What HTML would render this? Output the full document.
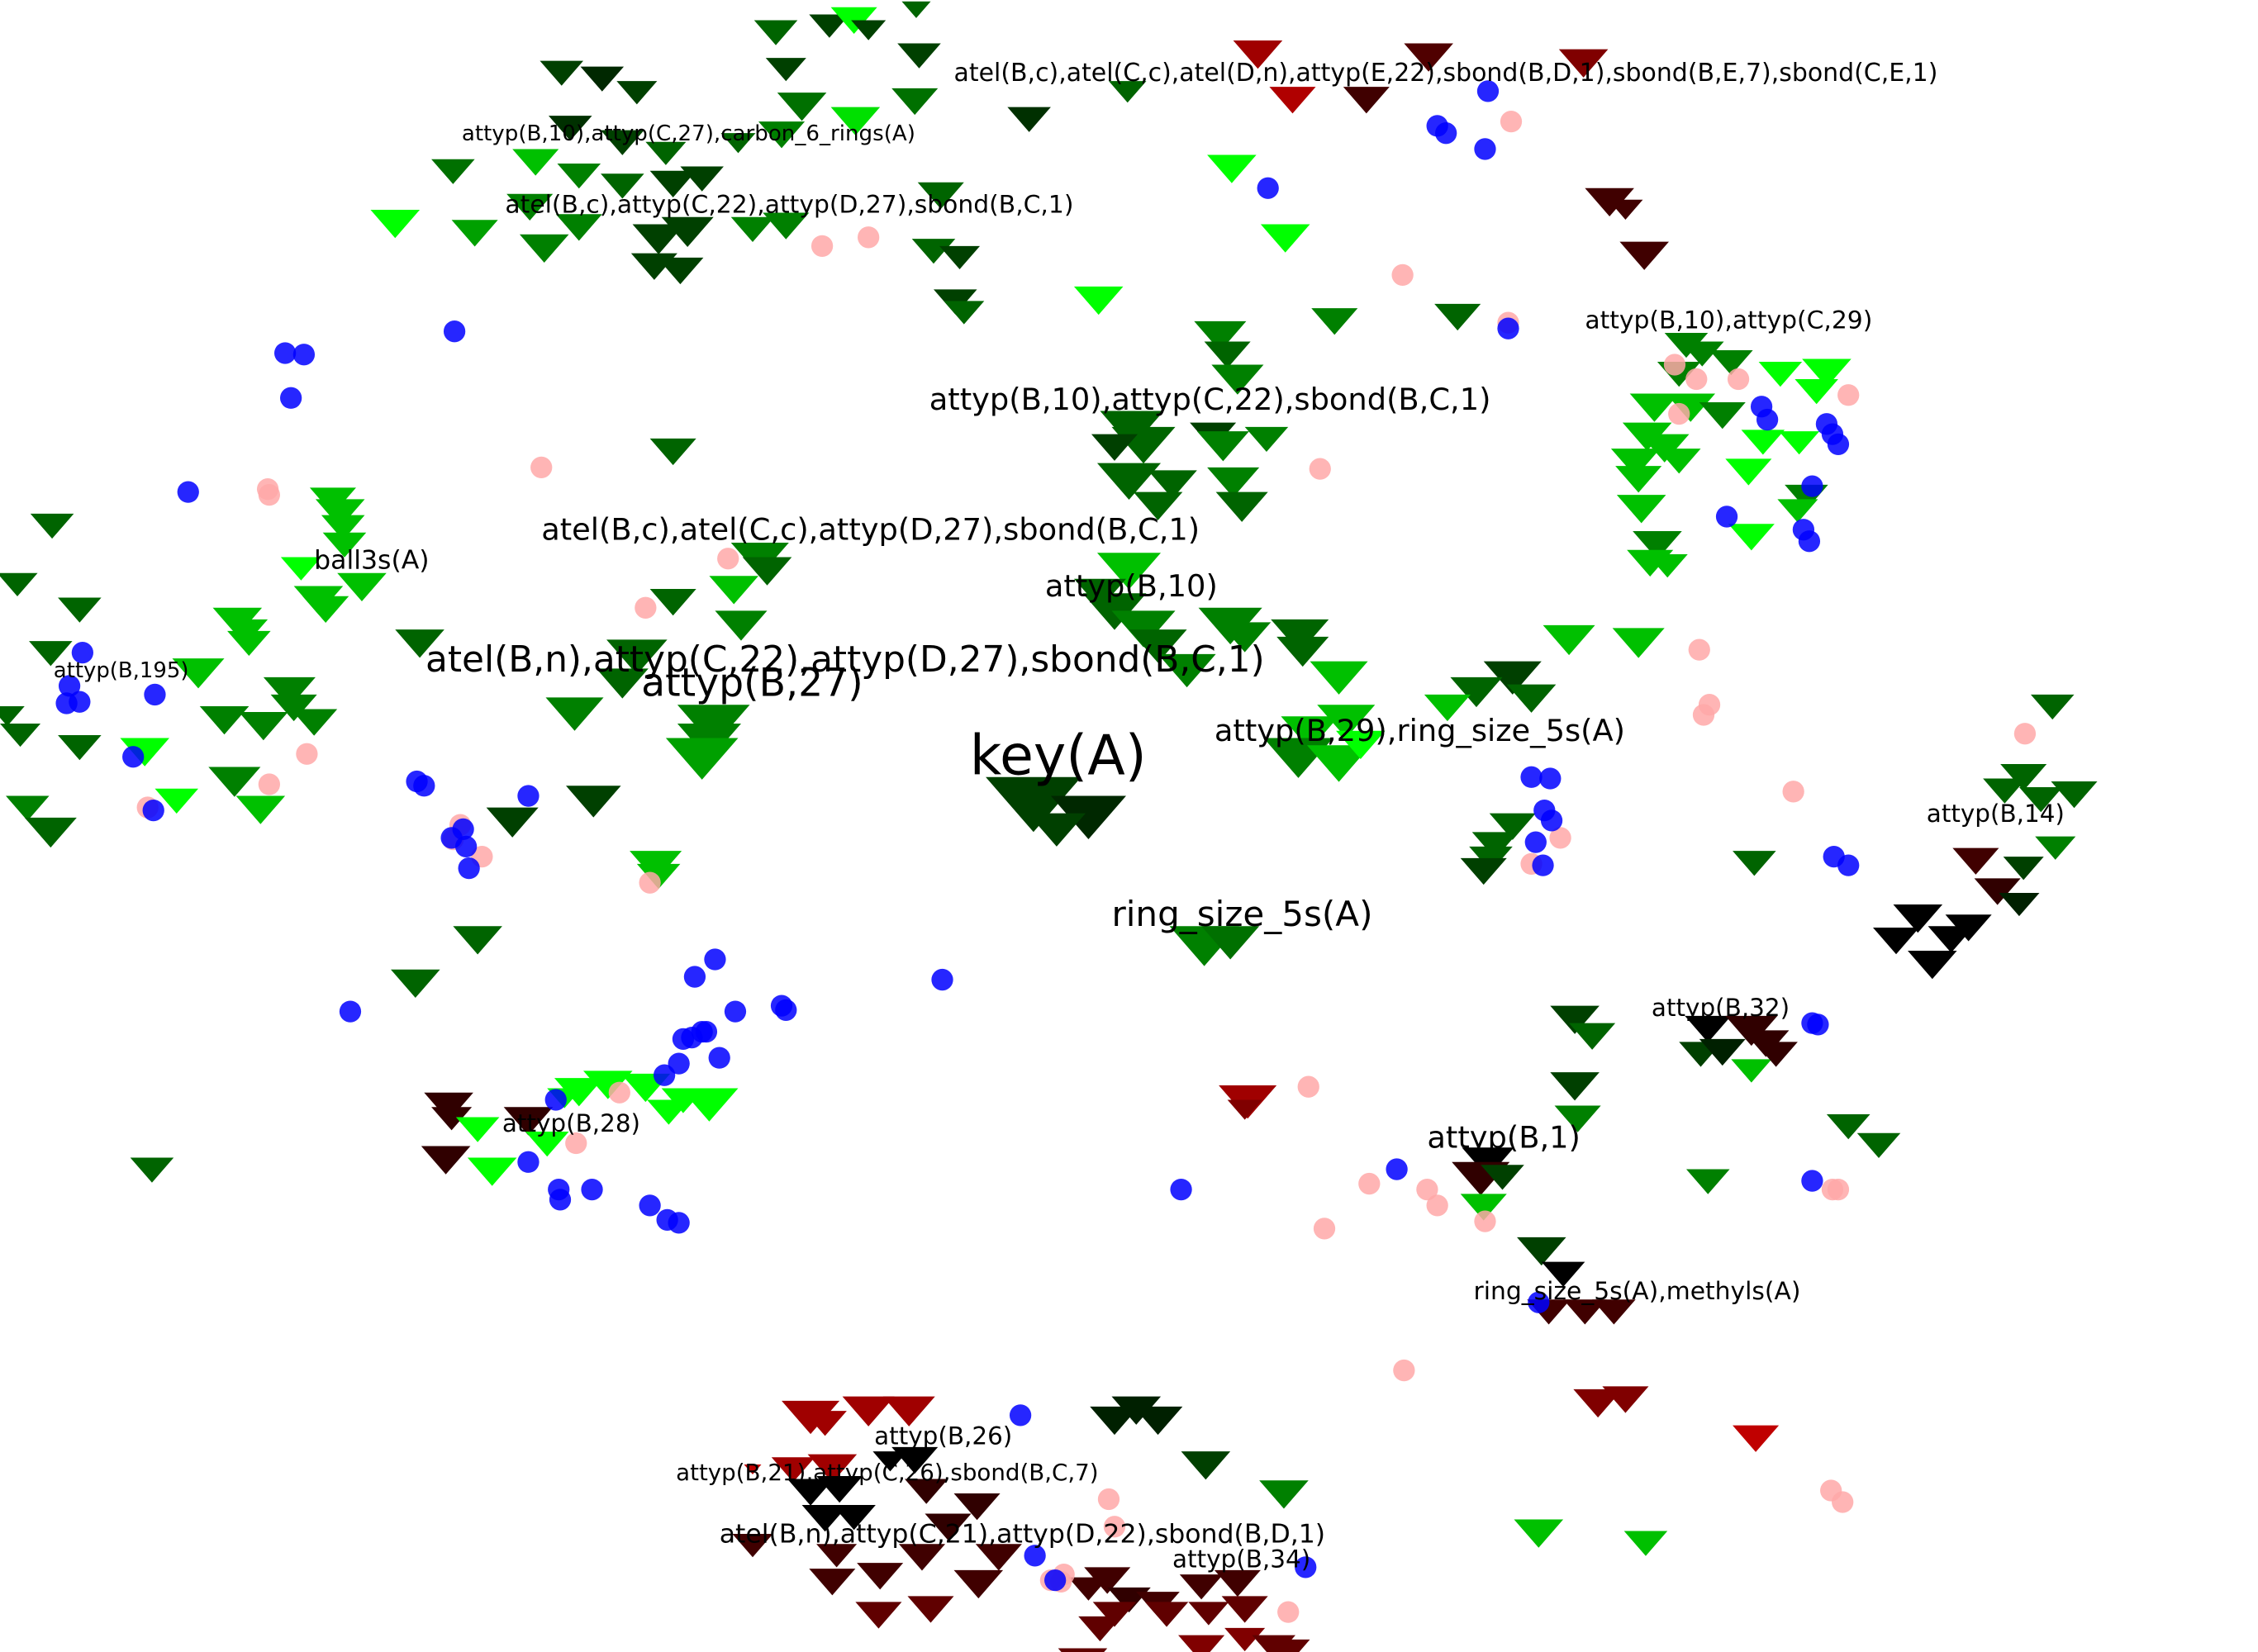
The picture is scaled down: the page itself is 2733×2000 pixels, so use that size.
<!DOCTYPE html>
<html><head><meta charset="utf-8"><style>
html,body{margin:0;padding:0;background:#fff;}
svg{display:block;}
text{font-family:"DejaVu Sans","Liberation Sans",sans-serif;fill:#000;}
</style></head><body>
<svg width="2733" height="2000" viewBox="0 0 1560 1141.6" preserveAspectRatio="none" xmlns="http://www.w3.org/2000/svg">
<g id="tris"></g>
<g id="circs"></g>
<g id="labels">
<text x="659" y="56" font-size="17.1">atel(B,c),atel(C,c),atel(D,n),attyp(E,22),sbond(B,D,1),sbond(B,E,7),sbond(C,E,1)</text>
<text x="319" y="97" font-size="14.9">attyp(B,10),attyp(C,27),carbon_6_rings(A)</text>
<text x="349" y="147" font-size="17">atel(B,c),attyp(C,22),attyp(D,27),sbond(B,C,1)</text>
<text x="1095" y="227" font-size="17">attyp(B,10),attyp(C,29)</text>
<text x="642" y="283" font-size="21">attyp(B,10),attyp(C,22),sbond(B,C,1)</text>
<text x="374" y="373" font-size="21">atel(B,c),atel(C,c),attyp(D,27),sbond(B,C,1)</text>
<text x="217" y="393" font-size="18">ball3s(A)</text>
<text x="722" y="412" font-size="21">attyp(B,10)</text>
<text x="294" y="464" font-size="25">atel(B,n),attyp(C,22),attyp(D,27),sbond(B,C,1)</text>
<text x="37" y="468" font-size="14.8">attyp(B,195)</text>
<text x="443" y="481" font-size="27">attyp(B,27)</text>
<text x="839" y="512" font-size="21">attyp(B,29),ring_size_5s(A)</text>
<text x="670" y="535" font-size="38">key(A)</text>
<text x="1331" y="568" font-size="16.8">attyp(B,14)</text>
<text x="768" y="640" font-size="24">ring_size_5s(A)</text>
<text x="1141" y="702" font-size="16.8">attyp(B,32)</text>
<text x="347" y="782" font-size="16.8">attyp(B,28)</text>
<text x="986" y="793" font-size="21">attyp(B,1)</text>
<text x="1018" y="898" font-size="17">ring_size_5s(A),methyls(A)</text>
<text x="604" y="998" font-size="16.8">attyp(B,26)</text>
<text x="467" y="1023" font-size="15.8">attyp(B,21),attyp(C,26),sbond(B,C,7)</text>
<text x="497" y="1066" font-size="18">atel(B,n),attyp(C,21),attyp(D,22),sbond(B,D,1)</text>
<text x="810" y="1083" font-size="16.8">attyp(B,34)</text>
</g>
<script>
var T=[[536,14,15,"#006400"],[573,10,14,"#004000"],[590,5,16,"#00ff00"],[600,14,12,"#004000"],[633,1,10,"#006400"],[635,30,15,"#004000"],[543,40,14,"#004000"],[388,42,15,"#004000"],[416,46,15,"#002800"],[440,56,14,"#004000"],[554,64,17,"#007000"],[632,61,16,"#007000"],[591,74,17,"#00e000"],[711,74,15,"#003000"],[779,56,13,"#006400"],[869,28,17,"#a00000"],[893,60,16,"#b00000"],[987,30,17,"#500000"],[944,60,16,"#400000"],[1094,34,17,"#800000"],
[394,80,15,"#003000"],[430,90,15,"#004000"],[460,98,14,"#006400"],[510,92,12,"#006400"],[540,84,16,"#008000"],[313,110,15,"#007000"],[370,103,16,"#00c000"],[400,113,15,"#008000"],[430,120,15,"#006400"],[465,118,16,"#004000"],[485,115,15,"#004000"],[650,126,16,"#006400"],[366,134,16,"#008000"],[400,148,16,"#008000"],[376,162,17,"#008000"],[328,152,16,"#00a000"],[273,145,17,"#00ff00"],[455,155,18,"#004000"],[475,150,18,"#004000"],[520,150,15,"#008000"],[543,147,16,"#008000"],[452,175,16,"#004000"],[470,178,16,"#004000"],[645,165,15,"#006400"],[663,170,14,"#004000"],[660,200,15,"#004000"],[666,208,14,"#006400"],[759,198,17,"#00ff00"],[851,107,17,"#00ff00"],[888,155,17,"#00ff00"],[922,213,16,"#008000"],[1007,210,16,"#006400"],[1112,130,17,"#400000"],[1123,138,12,"#400000"],[1136,167,17,"#400000"],
[1165,230,15,"#008000"],[1176,236,15,"#008000"],[1196,242,15,"#008000"],[1160,250,15,"#008000"],[1230,250,15,"#00ff00"],[1262,248,17,"#00ff00"],[1255,262,15,"#00ff00"],[1143,272,17,"#00c000"],[1168,272,17,"#00c000"],[1190,278,16,"#008000"],[1138,292,17,"#00c000"],[1150,300,17,"#00c000"],[1218,297,15,"#00ff00"],[1243,298,14,"#00ff00"],[1130,310,17,"#00c000"],[1160,310,15,"#00c000"],[1132,322,16,"#00c000"],[1208,317,16,"#00ff00"],[1134,342,17,"#00c000"],[1248,335,15,"#008000"],[1242,345,14,"#00c000"],[1145,367,17,"#008000"],[1140,380,16,"#00c000"],[1152,383,14,"#00c000"],[1210,362,16,"#00ff00"],
[843,222,18,"#008000"],[848,236,16,"#006400"],[855,252,18,"#008000"],[782,284,22,"#006400"],[790,295,22,"#006400"],[770,300,16,"#004000"],[838,292,16,"#004000"],[845,298,18,"#008000"],[875,295,15,"#008000"],[780,320,22,"#006400"],[810,325,17,"#006400"],[852,323,18,"#008000"],[800,340,17,"#006400"],[858,340,18,"#006400"],[465,303,16,"#006400"],
[230,337,16,"#00c000"],[235,345,17,"#00c000"],[237,356,15,"#00c000"],[238,368,15,"#00c000"],[36,355,15,"#006400"],[208,385,14,"#00ff00"],[250,396,17,"#00c000"],[220,405,17,"#00c000"],[225,412,16,"#00c000"],[12,396,14,"#006400"],[55,413,15,"#006400"],[164,420,17,"#00c000"],[170,428,15,"#00c000"],[172,436,15,"#00c000"],[35,443,15,"#006400"],[290,435,17,"#006400"],[137,455,18,"#00c000"],[200,468,18,"#008000"],[203,480,16,"#008000"],[155,488,17,"#008000"],[182,492,17,"#008000"],[217,490,16,"#008000"],[14,500,14,"#006400"],[5,488,12,"#006400"],[55,508,15,"#006400"],[100,510,17,"#00ff00"],[162,530,18,"#008000"],[180,550,17,"#00c000"],[122,545,15,"#00ff00"],[19,550,15,"#008000"],[35,565,18,"#006400"],
[525,375,20,"#008000"],[530,385,17,"#006400"],[507,398,17,"#00c000"],[465,407,16,"#006400"],[512,422,18,"#008000"],[440,442,21,"#006400"],[430,462,18,"#006400"],[493,487,25,"#008000"],[490,500,22,"#008000"],[485,510,25,"#00a000"],[397,482,20,"#008000"],[410,543,19,"#004000"],[354,558,18,"#004000"],[453,588,18,"#00c000"],[455,597,15,"#00c000"],[330,640,17,"#006400"],[287,670,17,"#006400"],[105,800,15,"#006400"],
[780,382,22,"#00c000"],[760,400,18,"#006400"],[770,410,22,"#006400"],[790,422,22,"#008000"],[800,435,20,"#006400"],[850,420,22,"#008000"],[860,430,18,"#008000"],[898,428,20,"#006400"],[900,440,18,"#006400"],[925,457,20,"#00c000"],[820,452,20,"#008000"],[1084,432,18,"#00c000"],[1132,434,18,"#00c000"],[1045,457,20,"#004000"],[1020,468,18,"#006400"],[1058,473,17,"#006400"],[1000,480,16,"#00c000"],[930,487,20,"#00c000"],[905,495,20,"#00c000"],[897,510,24,"#008000"],[925,515,22,"#00c000"],[940,505,17,"#00ff00"],[714,537,33,"#004000"],[752,550,26,"#002800"],[730,562,20,"#004000"],
[1418,480,15,"#006400"],[1398,528,16,"#006400"],[1385,538,15,"#006400"],[1410,544,15,"#006400"],[1433,540,16,"#006400"],[1420,578,14,"#008000"],[1045,562,16,"#006400"],[1033,575,16,"#006400"],[1030,585,15,"#006400"],[1025,593,16,"#004000"],[1212,588,15,"#006400"],[1365,586,16,"#400000"],[1398,592,14,"#004000"],[1380,607,16,"#300000"],[1395,617,14,"#002000"],[1325,625,17,"#000000"],[1360,632,16,"#000000"],[1310,641,16,"#000000"],[1348,640,16,"#000000"],[1335,657,17,"#000000"],
[832,640,24,"#008000"],[850,640,20,"#007000"],
[1088,695,17,"#004000"],[1100,707,16,"#006400"],[1180,702,16,"#000000"],[1210,702,18,"#300000"],[1220,712,16,"#300000"],[1175,720,15,"#004000"],[1190,718,16,"#002000"],[1210,732,14,"#00c000"],[1227,720,15,"#300000"],[1088,741,17,"#004000"],[1090,764,16,"#008000"],[862,750,20,"#a00000"],[860,760,12,"#800000"],[1277,770,15,"#006400"],[1298,783,15,"#006400"],[1028,793,18,"#000000"],[1023,803,20,"#300000"],[1038,805,15,"#004000"],[1025,825,16,"#00c000"],[1180,808,15,"#008000"],[1065,855,17,"#004000"],[1080,872,15,"#000000"],[1070,898,15,"#400000"],[1095,898,15,"#400000"],[1115,898,15,"#400000"],[1104,960,17,"#800000"],[1123,958,16,"#800000"],[1213,985,16,"#c00000"],[1063,1050,17,"#00c000"],[1137,1058,15,"#00c000"],[887,1023,17,"#008000"],[833,1003,17,"#004000"],
[310,755,17,"#300000"],[312,765,14,"#300000"],[365,765,17,"#300000"],[308,792,17,"#300000"],[330,772,15,"#00ff00"],[340,800,17,"#00ff00"],[400,745,17,"#00ff00"],[420,740,17,"#00ff00"],[446,742,17,"#00ff00"],[472,752,15,"#00ff00"],[490,752,20,"#00ff00"],[462,760,15,"#00ff00"],[390,752,12,"#00ff00"],[378,782,15,"#00ff00"],
[560,968,20,"#a00000"],[570,975,15,"#a00000"],[600,965,18,"#a00000"],[628,965,18,"#a00000"],[785,965,17,"#002000"],[770,972,17,"#002000"],[800,972,17,"#002000"],[632,1000,16,"#000000"],[615,1003,12,"#000000"],[575,1005,17,"#a00000"],[548,1007,15,"#a00000"],[520,1012,6,"#c00000"],[580,1020,16,"#000000"],[560,1022,16,"#000000"],[640,1022,15,"#300000"],[675,1032,16,"#300000"],[655,1046,16,"#300000"],[570,1040,16,"#000000"],[590,1040,15,"#000000"],[520,1060,14,"#400000"],[578,1067,14,"#400000"],[637,1067,16,"#400000"],[690,1067,16,"#400000"],[608,1080,16,"#400000"],[575,1084,16,"#400000"],[676,1085,17,"#400000"],[765,1083,16,"#400000"],[752,1090,14,"#400000"],[780,1097,15,"#300000"],[800,1100,15,"#400000"],[830,1088,15,"#400000"],[855,1085,16,"#400000"],[643,1103,16,"#600000"],[607,1107,16,"#600000"],[806,1107,15,"#600000"],[835,1107,14,"#600000"],[860,1103,16,"#600000"],[770,1107,15,"#600000"],[760,1117,15,"#600000"],[830,1130,16,"#800000"],[860,1125,14,"#800000"],[880,1130,15,"#600000"],[748,1139,17,"#600000"],[890,1133,15,"#600000"]];
var B=[[1028,63],[993,87],[999,92],[1026,103],[876,130],[1042,227],[314,229],[197,244],[210,245],[201,275],[130,340],[1217,281],[1221,290],[1262,293],[1266,300],[1270,307],[1252,336],[1193,357],[1246,366],[1250,374],[57,451],[48,474],[55,485],[46,486],[107,480],[92,523],[106,560],[288,540],[293,543],[365,550],[320,573],[312,579],[322,585],[324,600],[1058,537],[1071,538],[1067,560],[1072,567],[1061,582],[1066,598],[1267,592],[1277,598],[494,663],[480,675],[651,677],[242,699],[508,699],[540,695],[543,698],[485,713],[478,717],[488,713],[472,718],[497,731],[469,735],[459,743],[384,760],[365,803],[386,822],[387,829],[409,822],[449,833],[461,843],[469,845],[816,822],[965,808],[1252,707],[1256,708],[1252,816],[1063,900],[705,978],[715,1075],[729,1092],[902,1083]];
var P=[[1044,84],[568,170],[600,164],[969,190],[1042,223],[1157,252],[1172,262],[1201,262],[1277,273],[1160,286],[374,323],[912,324],[185,338],[186,342],[503,386],[446,420],[1174,449],[1181,487],[1177,494],[1399,507],[212,521],[186,542],[102,558],[1239,547],[318,570],[313,580],[333,592],[1078,579],[1058,597],[449,610],[428,755],[398,790],[904,751],[946,818],[986,822],[993,833],[915,849],[1026,844],[1266,822],[1270,822],[970,947],[1265,1030],[1273,1038],[766,1036],[770,1055],[735,1088],[726,1092],[890,1114],[733,1093]];
var ns="http://www.w3.org/2000/svg",g=document.getElementById("tris"),c=document.getElementById("circs");
T.forEach(function(t){var p=document.createElementNS(ns,"polygon");var x=t[0],y=t[1],w=t[2],h=w*1.15;p.setAttribute("points",(x-w)+","+y+" "+(x+w)+","+y+" "+x+","+(y+h));p.setAttribute("fill",t[3]);g.appendChild(p);});
function dot(a,col){a.forEach(function(d){var e=document.createElementNS(ns,"circle");e.setAttribute("cx",d[0]);e.setAttribute("cy",d[1]);e.setAttribute("r",7.5);e.setAttribute("fill",col);e.setAttribute("fill-opacity","0.85");c.appendChild(e);});}
dot(P,"#ffa8a8");dot(B,"#0000ff");
</script>
</svg>
</body></html>
